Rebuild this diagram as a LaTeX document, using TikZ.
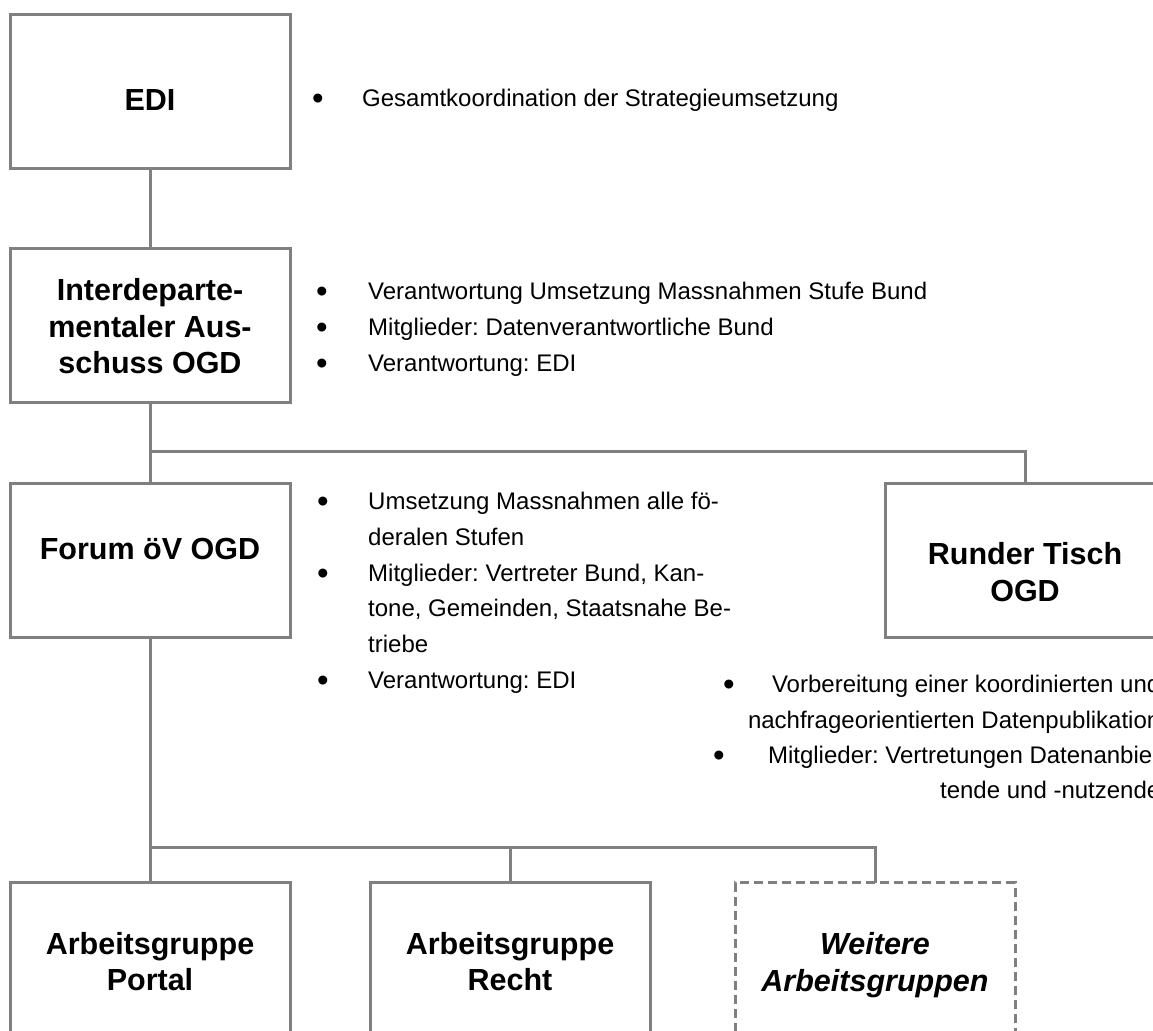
\documentclass[tikz,border=0pt]{standalone}
\usepackage{fontspec}
\setmainfont{Liberation Sans}
\usetikzlibrary{positioning}
\definecolor{linegray}{RGB}{128,128,128}
\frenchspacing

\begin{document}
\begin{tikzpicture}[x=1pt,y=-1pt,
         box/.style = {draw=linegray, line width=3pt, minimum width=280pt,
         minimum height=154pt, inner sep=0pt, outer sep=0pt},
         dashbox/.style = {box, dash pattern=on 9pt off 5pt},
         head/.style = {inner sep=0pt, align=center,
         font=\fontsize{30.5}{36.5}\selectfont\bfseries},
         link/.style = {draw=linegray, line width=3pt},
         item/.style = {anchor=base west, inner sep=0pt, font=\fontsize{24}{36}\selectfont},
         itemr/.style = {item, anchor=base east},
         dot/.style = {anchor=base, inner sep=0pt, yshift=-3pt, font=\fontsize{33}{36}\selectfont}
]
      \useasboundingbox (0,0) rectangle (1153,1030);
      \clip (0,0) rectangle (1153,1030);

      % boxes
      \node[box] (edi) at (150,91.5) {};
      \node[box, below=80pt of edi] (inter) {};
      \node[box, below=81pt of inter] (forum) {};
      \node[box, right=595pt of forum] (runder) {};
      \node[box, below=245pt of forum] (portal) {};
      \node[box, right=80pt of portal] (recht) {};
      \node[dashbox, right=85pt of recht] (weitere) {};

      \node[head] (ediT) at ([yshift=-8.5pt]edi.center) {EDI};
      \node[head] (interT) at ([yshift=-1pt]inter.center) {Interdeparte-\\mentaler Aus-\\schuss OGD};
      \node[head] (forumT) at ([yshift=12pt]forum.center) {Forum öV OGD};
      \node[head] (runderT) at ([yshift=-11.5pt]runder.center) {Runder Tisch\\OGD};
      \node[head] (portalT) at ([yshift=-2pt]portal.center) {Arbeitsgruppe\\Portal};
      \node[head] (rechtT) at ([yshift=-2pt]recht.center) {Arbeitsgruppe\\Recht};
      \node[head] (weitereT) at ([yshift=-5.5pt]weitere.center) {\itshape Weitere\\\itshape Arbeitsgruppen};

      % connectors
      \draw[link] (edi) -- (inter);
      \draw[link] (inter) -- (forum);
      \coordinate (split1) at (inter.south |- 0,451);
      \draw[link] (split1) -| (runder.north);
      \draw[link] (forum) -- (portal);
      \coordinate (split2) at (forum.south |- 0,847);
      \draw[link] (split2) -| (recht.north);
      \draw[link] (split2) -| (weitere.north);

      % bullet lists
      \node[dot] (g0) at (318,107) {•};
      \node[item] (g1) at (362,107) {Gesamtkoordination der Strategieumsetzung};

      \node[dot] (i0) at (322,299) {•};
      \node[item] (i1) at (368,299) {Verantwortung Umsetzung Massnahmen Stufe Bund};
      \node[dot] (i2) at (322,335) {•};
      \node[item] (i3) at (368,335) {Mitglieder: Datenverantwortliche Bund};
      \node[dot] (i4) at (322,371) {•};
      \node[item] (i5) at (368,371) {Verantwortung: EDI};

      \node[dot] (f0) at (323,509) {•};
      \node[item] (f1) at (368,509) {Umsetzung Massnahmen alle fö-};
      \node[item] (f2) at (368,545) {deralen Stufen};
      \node[dot] (f3) at (323,581) {•};
      \node[item] (f4) at (368,581) {Mitglieder: Vertreter Bund, Kan-};
      \node[item] (f5) at (368,616) {tone, Gemeinden, Staatsnahe Be-};
      \node[item] (f6) at (368,652) {triebe};
      \node[dot] (f7) at (323,688) {•};
      \node[item] (f8) at (368,688) {Verantwortung: EDI};

      \node[dot] (r0) at (729,692) {•};
      \node[itemr] (r1) at (1160.5,692) {Vorbereitung einer koordinierten und};
      \node[itemr] (r2) at (1160.5,728) {nachfrageorientierten Datenpublikation};
      \node[dot] (r3) at (719,763) {•};
      \node[itemr] (r4) at (1160.5,763) {Mitglieder: Vertretungen Datenanbie-};
      \node[itemr] (r5) at (1160.5,798) {tende und -nutzende};
\end{tikzpicture}
\end{document}
